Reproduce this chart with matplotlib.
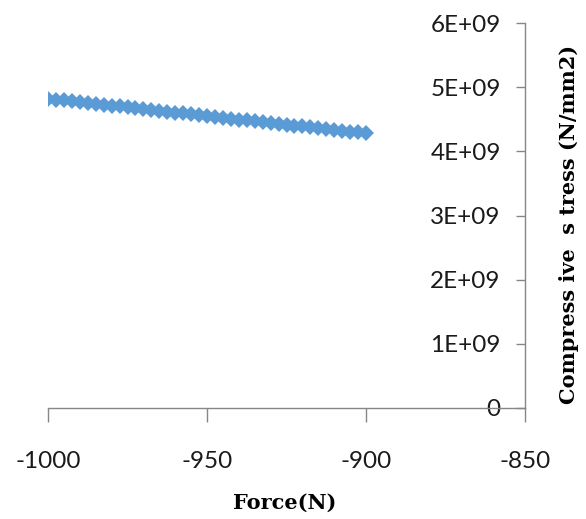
import matplotlib.pyplot as plt
from matplotlib.ticker import FuncFormatter

# Force (N) and compressive stress (x1e9 N/mm2)
force = [-1000, -997.5, -995, -992.5, -990, -987.5, -985, -982.5, -980, -977.5,
         -975, -972.5, -970, -967.5, -965, -962.5, -960, -957.5, -955, -952.5,
         -950, -947.5, -945, -942.5, -940, -937.5, -935, -932.5, -930, -927.5,
         -925, -922.5, -920, -917.5, -915, -912.5, -910, -907.5, -905, -902.5, -900]
stress_e9 = [4.820, 4.807, 4.793, 4.780, 4.766, 4.753, 4.739, 4.726, 4.712, 4.699,
             4.685, 4.672, 4.658, 4.645, 4.631, 4.618, 4.604, 4.591, 4.577, 4.564,
             4.550, 4.537, 4.523, 4.510, 4.496, 4.483, 4.469, 4.456, 4.442, 4.429,
             4.415, 4.402, 4.388, 4.375, 4.361, 4.348, 4.334, 4.321, 4.307, 4.294, 4.280]
stress = [v * 1e9 for v in stress_e9]

x_ticks = [-1000, -950, -900, -850]
y_ticks = [0, 1e9, 2e9, 3e9, 4e9, 5e9, 6e9]

plt.rcParams['font.family'] = ['Lato', 'DejaVu Sans']
plt.rcParams['axes.unicode_minus'] = False

fig = plt.figure(figsize=(5.86, 5.19), dpi=100)
W, H = 586, 519
ax = fig.add_axes([48 / W, 1 - 408 / H, (525 - 48) / W, (408 - 23) / H])

ax.plot(force, stress, linestyle='none', marker='D', markersize=8.5,
        color='#5B9BD5', markeredgewidth=0)

ax.set_xlim(-1000, -850)
ax.set_ylim(0, 6e9)
ax.set_xticks(x_ticks)
ax.set_yticks(y_ticks)
ax.yaxis.set_major_formatter(FuncFormatter(lambda v, p: '0' if v == 0 else f'{v:.0E}'))

axis_col = '#868686'
ax.spines['top'].set_visible(False)
ax.spines['right'].set_visible(False)
ax.spines['left'].set_position(('axes', 1.0))
for s in ('left', 'bottom'):
    ax.spines[s].set_color(axis_col)
    ax.spines[s].set_linewidth(1.0)

ax.tick_params(axis='y', direction='out', length=6.5, width=1.0, color=axis_col,
               pad=11, labelsize=17.5, labelcolor='#1a1a1a')
ax.tick_params(axis='x', direction='out', length=10, width=1.0, color=axis_col,
               pad=21, labelsize=17.5, labelcolor='#1a1a1a')

fig.text(285 / W, 1 - 503 / H, 'Force(N)', family='DejaVu Serif', weight='bold',
         fontsize=15, ha='center', va='center')
fig.text(569 / W, 1 - 224 / H, 'Compress ive  s tress (N/mm2)', family='DejaVu Serif',
         weight='bold', fontsize=15, rotation=90, ha='center', va='center')

fig.savefig('out.png', dpi=100)
